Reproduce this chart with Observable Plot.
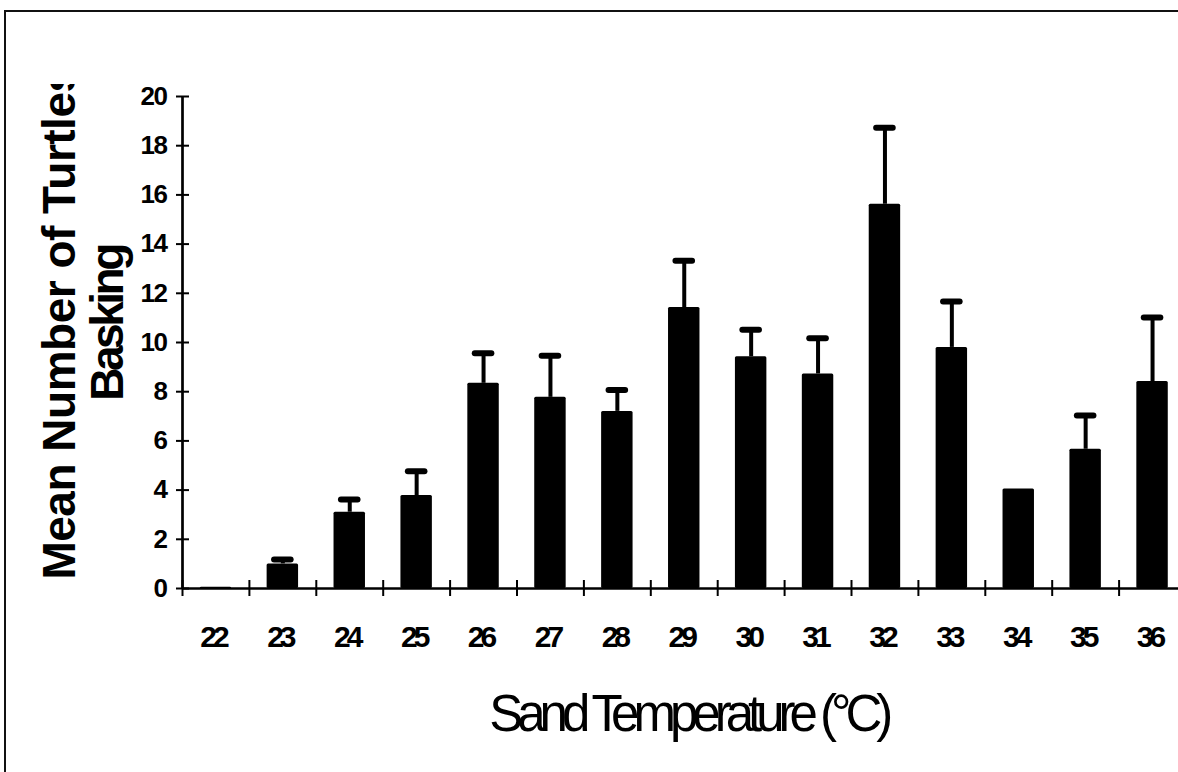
<!DOCTYPE html>
<html><head><meta charset="utf-8">
<script src="https://cdn.jsdelivr.net/npm/d3@7"></script>
<script src="https://cdn.jsdelivr.net/npm/@observablehq/plot@0.6"></script>
<style>
html,body{margin:0;padding:0;background:#fff;overflow:hidden;}
#wrap{position:relative;width:1178px;height:772px;overflow:hidden;background:#fff;}
#border{position:absolute;left:4px;top:10px;width:1400px;height:1000px;border-left:2px solid #111;border-top:2px solid #111;pointer-events:none;}
svg{display:block}
</style></head>
<body><div id="wrap"><div id="chart"></div><div id="border"></div></div>
<script>
// Sand temperature categories (°C)
const temperatures = [22, 23, 24, 25, 26, 27, 28, 29, 30, 31, 32, 33, 34, 35, 36];
// Mean number of turtles basking
const means = [0.05, 1.0, 3.1, 3.78, 8.34, 7.77, 7.2, 11.42, 9.42, 8.72, 15.62, 9.8, 4.04, 5.66, 8.41];
// Top of the error bar (mean + error)
const upperErrors = [null, 1.18, 3.62, 4.77, 9.56, 9.46, 8.07, 13.32, 10.52, 10.17, 18.73, 11.67, null, 7.03, 11.02];
// Axis ticks
const yTicks = [0, 2, 4, 6, 8, 10, 12, 14, 16, 18, 20];
const xTickLabels = temperatures;
const yTitle = "Mean Number of Turtles\nBasking";
const xTitle = "Sand Temperature (°C)";

const data = temperatures.map((t, i) => ({t, mean: means[i], upper: upperErrors[i]}));
const errData = data.filter(d => d.upper != null);
const xBoundaries = temperatures.map(t => t - 0.5).concat([temperatures[temperatures.length - 1] + 0.5]);

const font = "'Liberation Sans', Arial, Helvetica, sans-serif";

const chart = Plot.plot({
  width: 1178,
  height: 772,
  marginLeft: 182,
  marginRight: -7.5,
  marginTop: 96,
  marginBottom: 184,
  style: {fontFamily: font, color: "#000", background: "transparent"},
  x: {type: "linear", domain: [21.5, 36.5], axis: null},
  y: {domain: [0, 20], axis: null},
  marks: [
    Plot.rectY(data, {x1: d => d.t - 0.235, x2: d => d.t + 0.235, y1: 0, y2: "mean", fill: "#000", rx: 1.5}),
    Plot.ruleX(errData, {x: "t", y1: "mean", y2: "upper", stroke: "#000", strokeWidth: 4}),
    Plot.ruleY(errData, {y: "upper", x1: d => d.t - 0.124, x2: d => d.t + 0.124, stroke: "#000", strokeWidth: 6, strokeLinecap: "round"}),
    Plot.ruleX([21.5], {y1: 0, y2: 20, stroke: "#000", strokeWidth: 2.7}),
    Plot.ruleY([0], {x1: 21.5, x2: 36.5, stroke: "#000", strokeWidth: 2.5}),
    Plot.axisY({ticks: yTicks, tickSize: 13, dx: 7, tickPadding: 10, fontSize: 26, fontWeight: "bold", strokeWidth: 2, label: null, tickFormat: d => String(d)}),
    Plot.axisX({ticks: xBoundaries, tickSize: 16, dy: -8, strokeWidth: 2, label: null, tickFormat: () => ""}),
    Plot.axisX({ticks: xTickLabels, tickSize: 0, tickPadding: 37, dx: -3, fontSize: 30, fontWeight: "bold", label: null, tickFormat: d => String(d)}),
    Plot.text([yTitle], {frameAnchor: "left", textAnchor: "middle", dx: -98.5, dy: -19, rotate: -90, fontSize: 46, fontWeight: "bold", lineHeight: 1.03, fill: "#000"}),
    Plot.text([xTitle], {frameAnchor: "bottom", textAnchor: "middle", dx: 4, dy: 142, lineAnchor: "bottom", fontSize: 51, fill: "#000"})
  ]
});
document.getElementById("chart").appendChild(chart);

const svg = d3.select(chart);
// condensed look of the scanned labels
svg.selectAll('g[aria-label="x-axis tick label"] text').style("letter-spacing", "-4px");
svg.selectAll('g[aria-label="y-axis tick label"] text').style("letter-spacing", "-1.5px");
const textGroups = svg.selectAll('g[aria-label="text"]').nodes();
const ytNode = textGroups[0], xtNode = textGroups[1];
if (xtNode) d3.select(xtNode).selectAll("text").style("letter-spacing", "-6px");
if (ytNode) {
  d3.select(ytNode).selectAll("text").style("letter-spacing", "-0.5px");
  const spans = d3.select(ytNode).selectAll("tspan").nodes();
  if (spans.length > 1) d3.select(spans[1]).style("letter-spacing", "-3.5px");
  // clip the y title at the top like the original axis-title box
  svg.append("defs").append("clipPath").attr("id", "ytclip")
    .append("rect").attr("x", 0).attr("y", 84).attr("width", 182).attr("height", 700);
  const wrapper = svg.append("g").attr("clip-path", "url(#ytclip)");
  wrapper.node().appendChild(ytNode);
}
</script>
</body></html>
